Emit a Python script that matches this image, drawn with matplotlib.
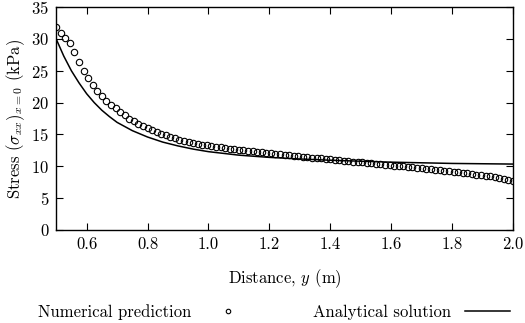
import matplotlib
matplotlib.use('Agg')
import matplotlib.pyplot as plt
import numpy as np

plt.rcParams['font.family'] = 'cmr10'
plt.rcParams['mathtext.fontset'] = 'cm'
plt.rcParams['axes.formatter.use_mathtext'] = True
plt.rcParams['font.size'] = 12

# numerical prediction (circles), evenly spaced along y
distance_num = np.linspace(0.5, 2.0, 101)
stress_num = [
    31.8, 31.0, 30.1, 29.3, 27.9, 26.4, 25.0, 23.8, 22.8, 21.9,
    21.0, 20.3, 19.7, 19.1, 18.5, 18.0, 17.5, 17.05, 16.65, 16.3,
    15.95, 15.65, 15.35, 15.1, 14.85, 14.62, 14.4, 14.2, 14.02, 13.85,
    13.7, 13.55, 13.42, 13.3, 13.18, 13.07, 12.96, 12.86, 12.76, 12.67,
    12.58, 12.49, 12.41, 12.33, 12.25, 12.17, 12.09, 12.01, 11.94, 11.87,
    11.8, 11.73, 11.66, 11.59, 11.52, 11.45, 11.38, 11.31, 11.24, 11.17,
    11.1, 11.03, 10.96, 10.89, 10.82, 10.75, 10.68, 10.61, 10.54, 10.47,
    10.4, 10.33, 10.26, 10.19, 10.12, 10.05, 9.98, 9.91, 9.84, 9.76,
    9.68, 9.6, 9.52, 9.44, 9.36, 9.28, 9.2, 9.12, 9.04, 8.96,
    8.87, 8.78, 8.69, 8.6, 8.5, 8.4, 8.3, 8.2, 8.05, 7.9,
    7.75,
]

# analytical solution (line)
distance_ana = [0.5, 0.525, 0.55, 0.575, 0.6, 0.625, 0.65, 0.675, 0.7, 0.75,
                0.8, 0.85, 0.9, 0.95, 1.0, 1.1, 1.2, 1.3, 1.4, 1.5,
                1.6, 1.7, 1.8, 1.9, 2.0]
stress_ana = [30.0, 27.3, 25.0, 23.1, 21.4, 20.0, 18.8, 17.8, 16.9, 15.6,
              14.6, 13.8, 13.2, 12.7, 12.3, 11.75, 11.4, 11.15, 10.95, 10.8,
              10.65, 10.55, 10.45, 10.4, 10.35]

fig = plt.figure(figsize=(5.25, 3.23), dpi=100)
ax = fig.add_axes([0.107, 0.288, 0.870, 0.690])

num, = ax.plot(distance_num, stress_num, linestyle='none', marker='o',
               markersize=4.6, markerfacecolor='none', markeredgecolor='black',
               markeredgewidth=0.8, label='Numerical prediction')
ana, = ax.plot(distance_ana, stress_ana, color='black', linewidth=1.1,
               label='Analytical solution')

ax.set_xlim(0.5, 2.0)
ax.set_ylim(0, 35)
ax.set_xticks([0.6, 0.8, 1.0, 1.2, 1.4, 1.6, 1.8, 2.0])
ax.set_xticklabels(['0.6', '0.8', '1.0', '1.2', '1.4', '1.6', '1.8', '2.0'])
ax.set_yticks(range(0, 36, 5))
ax.tick_params(direction='in', top=True, right=True, length=5, width=0.8, pad=5)
for s in ax.spines.values():
    s.set_linewidth(1.0)

ax.set_xlabel('Distance, $y$ (m)', labelpad=11)
ax.set_ylabel(r'Stress $(\sigma_{xx})_{x=0}$ (kPa)', labelpad=3)

fig.legend(handles=[num, ana], loc='center', bbox_to_anchor=(0.522, 0.035),
           ncol=2, frameon=False, markerfirst=False, handlelength=2.7,
           handletextpad=0.8, columnspacing=3.8, borderpad=0, markerscale=0.7)

fig.savefig('out.png', dpi=100)
